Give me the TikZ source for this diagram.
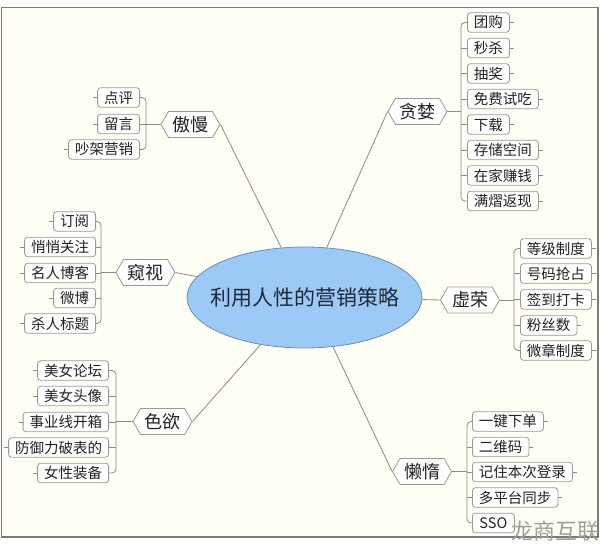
\documentclass[tikz,border=0pt]{standalone}
\usepackage{fontspec}
\setmainfont{Noto Sans CJK SC}
\usetikzlibrary{shapes.geometric,shapes.symbols}
\definecolor{bgc}{HTML}{FFFFF5}
\definecolor{framec}{HTML}{7A7A7A}
\definecolor{linec}{HTML}{8A8A8A}
\definecolor{boxc}{HTML}{999999}
\definecolor{textc}{HTML}{222222}
\definecolor{ellf}{HTML}{9CC9F5}
\definecolor{ellb}{HTML}{6F8FB5}
\definecolor{ctext}{HTML}{1E2A38}
\begin{document}
\begin{tikzpicture}[x=1pt,y=-1pt,
  conn/.style={draw=linec, line width=0.8pt},
  leaf/.style={draw=boxc, fill=white, rounded corners=3pt, line width=0.8pt,
    minimum height=19.5pt, inner xsep=6.5pt, inner ysep=0pt,
    font=\fontsize{14.5}{16}\selectfont, text=textc},
  hexa/.style={signal, signal to=west and east, signal pointer angle=120,
    draw=boxc, fill=white, line width=0.8pt, minimum width=55pt,
    minimum height=26pt, inner xsep=4pt, inner ysep=0pt,
    font=\fontsize{18}{20}\selectfont, text=textc},
  wmark/.style={text=black!38, font=\fontsize{22}{24}\selectfont}
]
\useasboundingbox (0,0) rectangle (600,545);
\fill[white] (0,0) rectangle (600,545);
\draw[framec, fill=bgc, line width=1.5pt] (1.5,7.5) rectangle (598,537);

% root
\node[ellipse, draw=ellb, fill=ellf, line width=0.8pt, minimum width=235pt,
  minimum height=101pt, inner sep=0pt,
  label={[font=\fontsize{21}{24}\selectfont, text=ctext, inner sep=0pt]center:利用人性的营销策略}]
  (root) at (304.5,297.5) {};

% branch nodes
\node[hexa] (tl) at (417.5,111.5) {贪婪};
\node[hexa] (am) at (190.5,124.5) {傲慢};
\node[hexa] (ks) at (145.5,272.5) {窥视};
\node[hexa] (sy) at (162.5,421.5) {色欲};
\node[hexa] (xr) at (470,300) {虚荣};
\node[hexa] (ld) at (422,471.5) {懒惰};

% root connectors
\draw[conn] (root.66) -- (tl.west);
\draw[conn] (root.115) -- (am.east);
\draw[conn] (root.169) -- (ks.east);
\draw[conn] (root.227) -- (sy.east);
\draw[conn] (root.-1) -- (xr.west);
\draw[conn] (root.300) -- (ld.west);

% trunk coordinates
\coordinate (Ta) at (461,111.5);
\coordinate (Tb) at (146,124.5);
\coordinate (Tc) at (101,272.5);
\coordinate (Td) at (116,421.5);
\coordinate (Te) at (514,300);
\coordinate (Tf) at (467,471.5);

% group a
\foreach \n/\y/\t in {a1/22.5/团购, a2/48/秒杀, a3/73.5/抽奖, a4/99/免费试吃,
  a5/124.5/下载, a6/150/存储空间, a7/175.5/在家赚钱, a8/201/满熠返现}
  {\node[leaf, anchor=west] (\n) at (467,\y) {\t};
   \draw[conn] (\n.east) -- ++(4,0);}
\foreach \n in {a2,a3,a4,a5,a6,a7} \draw[conn] (\n.west) -- (\n.west -| Ta);
\draw[conn, rounded corners=4pt] (a1.west) -- (a1.west -| Ta) -- (a8.west -| Ta) -- (a8.west);
\draw[conn] (tl.east) -- (Ta);

% group b
\foreach \n/\y/\t in {b1/97.5/点评, b2/124/留言, b3/149.5/吵架营销}
  {\node[leaf, anchor=east] (\n) at (140,\y) {\t};
   \draw[conn] (\n.west) -- ++(-4,0);}
\draw[conn] (b2.east) -- (b2.east -| Tb);
\draw[conn, rounded corners=4pt] (b1.east) -- (b1.east -| Tb) -- (b3.east -| Tb) -- (b3.east);
\draw[conn] (am.west) -- (Tb);

% group c
\foreach \n/\y/\t in {c1/221.5/订阅, c2/247/悄悄关注, c3/273/名人博客, c4/298/微博, c5/323.5/杀人标题}
  {\node[leaf, anchor=east] (\n) at (96,\y) {\t};
   \draw[conn] (\n.west) -- ++(-4,0);}
\foreach \n in {c2,c3,c4} \draw[conn] (\n.east) -- (\n.east -| Tc);
\draw[conn, rounded corners=4pt] (c1.east) -- (c1.east -| Tc) -- (c5.east -| Tc) -- (c5.east);
\draw[conn] (ks.west) -- (Tc);

% group d
\foreach \n/\y/\t in {d1/370.5/美女论坛, d2/396/美女头像, d3/422/事业线开箱, d4/447.5/防御力破表的, d5/473/女性装备}
  {\node[leaf, anchor=east] (\n) at (109,\y) {\t};
   \draw[conn] (\n.west) -- ++(-4,0);}
\foreach \n in {d2,d3,d4} \draw[conn] (\n.east) -- (\n.east -| Td);
\draw[conn, rounded corners=4pt] (d1.east) -- (d1.east -| Td) -- (d5.east -| Td) -- (d5.east);
\draw[conn] (sy.west) -- (Td);

% group e
\foreach \n/\y/\t in {e1/248.5/等级制度, e2/273.5/号码抢占, e3/299.5/签到打卡, e4/325.5/粉丝数, e5/350.5/微章制度}
  {\node[leaf, anchor=west] (\n) at (520,\y) {\t};
   \draw[conn] (\n.east) -- ++(4,0);}
\foreach \n in {e2,e3,e4} \draw[conn] (\n.west) -- (\n.west -| Te);
\draw[conn, rounded corners=4pt] (e1.west) -- (e1.west -| Te) -- (e5.west -| Te) -- (e5.west);
\draw[conn] (xr.east) -- (Te);

% group f
\foreach \n/\y/\t in {f1/421.5/一键下单, f2/447/二维码, f3/472/记住本次登录, f4/497.5/多平台同步}
  {\node[leaf, anchor=west] (\n) at (472,\y) {\t};
   \draw[conn] (\n.east) -- ++(4,0);}
\node[leaf, anchor=west, minimum width=42pt] (f5) at (472,523) {SSO};
\foreach \n in {f2,f3,f4} \draw[conn] (\n.west) -- (\n.west -| Tf);
\draw[conn, rounded corners=4pt] (f1.west) -- (f1.west -| Tf) -- (f5.west -| Tf) -- (f5.west);
\draw[conn] (ld.east) -- (Tf);

% watermark
\node[wmark, anchor=west, inner sep=0pt] (wm) at (511,531) {龙商互联};
\end{tikzpicture}
\end{document}
